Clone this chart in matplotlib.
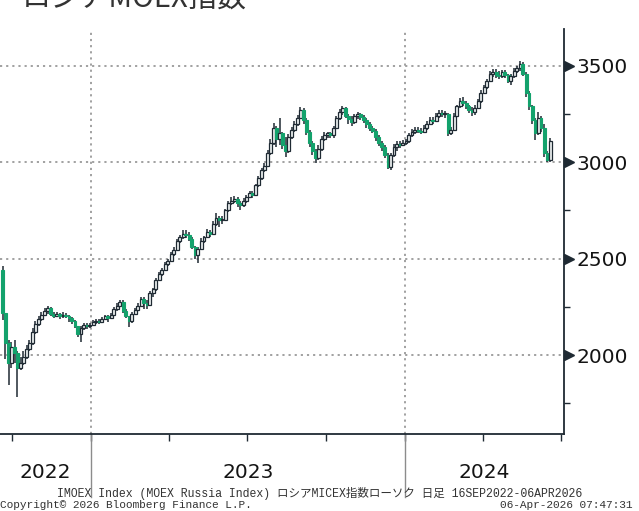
import pandas as pd
import matplotlib
matplotlib.use('Agg')
import matplotlib.pyplot as plt
import matplotlib.dates as mdates
import matplotlib.transforms as mtransforms
from matplotlib.patches import Rectangle

plt.rcParams['font.family'] = ['DejaVu Sans', 'Noto Sans CJK JP']

title = 'ロシアMOEX指数'
footer_1 = 'IMOEX Index (MOEX Russia Index) ロシアMICEX指数ローソク 日足 16SEP2022-06APR2026'
footer_2 = 'Copyright© 2026 Bloomberg Finance L.P.'
footer_3 = '06-Apr-2026 07:47:31'

# half-week candles (Mon-Wed, Thu-Fri)
first_open = 2440
closes = [2220, 2060, 1960, 2040, 2010, 1930, 1960, 1990, 2030, 2060,
          2120, 2160, 2185, 2210, 2230, 2245, 2215, 2205, 2215, 2200,
          2210, 2205, 2190, 2175, 2150, 2110, 2140, 2155, 2150, 2155,
          2170, 2175, 2170, 2185, 2200, 2190, 2210, 2240, 2255, 2275,
          2230, 2200, 2175, 2215, 2235, 2255, 2290, 2270, 2260, 2320,
          2340, 2390, 2420, 2440, 2470, 2490, 2525, 2545, 2590, 2610,
          2630, 2625, 2600, 2560, 2520, 2550, 2590, 2610, 2640, 2630,
          2680, 2710, 2700, 2700, 2750, 2790, 2800, 2810, 2790, 2780,
          2800, 2820, 2840, 2830, 2880, 2920, 2960, 2980, 3050, 3100,
          3180, 3120, 3150, 3090, 3060, 3130, 3170, 3200, 3230, 3270,
          3220, 3160, 3100, 3060, 3020, 3070, 3120, 3140, 3150, 3140,
          3180, 3230, 3260, 3280, 3240, 3225, 3210, 3240, 3250, 3235,
          3220, 3200, 3180, 3165, 3130, 3100, 3080, 3040, 2975, 3040,
          3080, 3095, 3090, 3100, 3110, 3140, 3160, 3170, 3165, 3155,
          3180, 3200, 3220, 3215, 3240, 3255, 3250, 3250, 3150, 3170,
          3240, 3290, 3320, 3310, 3290, 3270, 3260, 3280, 3320, 3360,
          3390, 3420, 3460, 3470, 3455, 3450, 3470, 3455, 3420, 3450,
          3475, 3490, 3510, 3460, 3360, 3290, 3220, 3150, 3230, 3180,
          3050, 3010, 3110]
highs = [2460, 2210, 2080, 2070, 2080, 2020, 1990, 2020, 2050, 2080,
         2140, 2175, 2200, 2225, 2245, 2255, 2250, 2225, 2225, 2220,
         2225, 2220, 2210, 2195, 2180, 2150, 2150, 2165, 2165, 2165,
         2180, 2185, 2185, 2195, 2210, 2210, 2220, 2250, 2270, 2285,
         2285, 2240, 2205, 2225, 2245, 2270, 2300, 2300, 2285, 2330,
         2350, 2400, 2430, 2450, 2485, 2500, 2535, 2560, 2600, 2625,
         2650, 2650, 2640, 2610, 2565, 2560, 2605, 2620, 2655, 2650,
         2695, 2735, 2720, 2720, 2760, 2800, 2820, 2825, 2820, 2800,
         2815, 2830, 2850, 2850, 2890, 2930, 2970, 2995, 3065, 3120,
         3205, 3190, 3230, 3160, 3130, 3145, 3185, 3215, 3245, 3285,
         3280, 3230, 3170, 3110, 3070, 3090, 3135, 3155, 3160, 3160,
         3190, 3240, 3275, 3290, 3285, 3250, 3240, 3250, 3260, 3255,
         3245, 3230, 3210, 3190, 3175, 3140, 3110, 3090, 3050, 3050,
         3095, 3110, 3110, 3115, 3120, 3150, 3175, 3185, 3185, 3180,
         3195, 3215, 3235, 3235, 3255, 3270, 3270, 3265, 3255, 3185,
         3255, 3300, 3335, 3340, 3320, 3300, 3285, 3295, 3330, 3375,
         3400, 3430, 3475, 3485, 3485, 3475, 3480, 3480, 3460, 3460,
         3490, 3500, 3525, 3520, 3470, 3370, 3300, 3230, 3260, 3240,
         3200, 3060, 3125]
lows = [2180, 1980, 1844, 1930, 1960, 1782, 1920, 1950, 1980, 2020,
        2050, 2110, 2150, 2175, 2200, 2215, 2205, 2190, 2195, 2185,
        2190, 2190, 2170, 2160, 2140, 2095, 2070, 2130, 2135, 2140,
        2150, 2160, 2160, 2165, 2180, 2170, 2185, 2205, 2230, 2250,
        2220, 2190, 2145, 2165, 2210, 2230, 2250, 2240, 2240, 2255,
        2300, 2330, 2385, 2410, 2435, 2460, 2485, 2515, 2540, 2580,
        2600, 2605, 2590, 2550, 2500, 2478, 2545, 2580, 2610, 2615,
        2625, 2670, 2665, 2680, 2695, 2740, 2780, 2790, 2770, 2755,
        2770, 2790, 2815, 2815, 2825, 2870, 2910, 2950, 2975, 3040,
        3090, 3080, 3090, 3070, 3030, 3050, 3120, 3160, 3190, 3225,
        3200, 3140, 3080, 3040, 2995, 3010, 3060, 3110, 3125, 3125,
        3125, 3175, 3220, 3245, 3230, 3200, 3190, 3200, 3225, 3220,
        3205, 3180, 3165, 3150, 3110, 3085, 3060, 3020, 2965, 2960,
        3030, 3060, 3075, 3085, 3090, 3100, 3130, 3145, 3150, 3145,
        3150, 3170, 3195, 3200, 3210, 3230, 3235, 3230, 3135, 3140,
        3165, 3235, 3280, 3290, 3275, 3255, 3240, 3245, 3275, 3310,
        3355, 3380, 3415, 3445, 3440, 3435, 3440, 3440, 3410, 3400,
        3440, 3465, 3475, 3450, 3340, 3270, 3200, 3115, 3140, 3160,
        3030, 3000, 3000]

dates = pd.date_range('2022-09-19', '2024-06-17', freq='W-MON').union(
    pd.date_range('2022-09-19', '2024-06-17', freq='W-THU'))
opens = [first_open] + closes[:-1]

y_major = [2000, 2500, 3000, 3500]
y_minor = [1750, 2250, 2750, 3250]
quarters = ['2022-10-01', '2023-01-01', '2023-04-01', '2023-07-01',
            '2023-10-01', '2024-01-01', '2024-04-01', '2024-07-01']
years = ['2022', '2023', '2024']
year_starts = ['2023-01-01', '2024-01-01']

green = '#13a26c'
dark = '#1f2a33'
grid_c = '#9a9a9a'

fig = plt.figure(figsize=(6.39, 5.11), dpi=100)
ax = fig.add_axes([0.0, 1 - 434 / 511, 564 / 639, 405 / 511])

xnum = mdates.date2num(dates) + 1.25
w = 3.4
for x, o, h, l, c in zip(xnum, opens, highs, lows, closes):
    ax.vlines(x, l, h, color=dark, lw=1.1, zorder=3)
    bottom = min(o, c)
    height = max(abs(c - o), 5)
    if c >= o:
        ax.add_patch(Rectangle((x - w / 2, bottom), w, height, facecolor='#eef3f2',
                               edgecolor=dark, lw=0.9, zorder=4))
    else:
        ax.add_patch(Rectangle((x - w / 2, bottom), w, height, facecolor=green,
                               edgecolor=green, lw=0.8, zorder=4))

xmin = mdates.date2num(pd.Timestamp('2022-09-17'))
xmax = mdates.date2num(pd.Timestamp('2024-07-04'))
ax.set_xlim(xmin, xmax)
ax.set_ylim(1590, 3692)

# grid
for v in y_major:
    ax.axhline(v, color=grid_c, lw=1.3, ls=(0, (1.2, 2.2)), zorder=1)
for d in year_starts:
    ax.axvline(mdates.date2num(pd.Timestamp(d)), color=grid_c, lw=1.3,
               ls=(0, (1.2, 2.2)), zorder=1)

# spines
for s in ['left', 'top']:
    ax.spines[s].set_visible(False)
for s in ['right', 'bottom']:
    ax.spines[s].set_color(dark)
    ax.spines[s].set_linewidth(1.3)

# y axis on the right
ax.yaxis.tick_right()
ax.set_yticks(y_major)
ax.set_yticks(y_minor, minor=True)
ax.tick_params(axis='y', which='major', length=0, pad=9, labelsize=14.5,
               labelcolor='#141414')
ax.tick_params(axis='y', which='minor', length=4, width=1, color=dark,
               direction='out')
tri = mtransforms.offset_copy(ax.get_yaxis_transform(), fig=fig, x=5, y=0,
                              units='dots')
ax.plot([1.0] * len(y_major), y_major, marker='>', ms=6.5, color=dark, ls='none',
        transform=tri, clip_on=False)

# x axis
ax.set_xticks([mdates.date2num(pd.Timestamp(q)) for q in quarters])
ax.tick_params(axis='x', length=5, width=1, color=dark, direction='out',
               labelbottom=False)
bt = mtransforms.blended_transform_factory(ax.transData, ax.transAxes)
for d in year_starts:
    xd = mdates.date2num(pd.Timestamp(d))
    ax.plot([xd, xd], [0, -63 / 405], color='#8c8c8c', lw=1, transform=bt,
            clip_on=False)
edges = [xmin] + [mdates.date2num(pd.Timestamp(d)) for d in year_starts] + [xmax]
for i, yr in enumerate(years):
    ax.text((edges[i] + edges[i + 1]) / 2, -38 / 405, yr, transform=bt,
            ha='center', va='center', fontsize=14.5, color='#141414')

# title (cut at the top edge, as in the source) and footer
fig.text(22 / 639, 1 - 14 / 511, title, ha='left', va='bottom', fontsize=21,
         color='#333333', family=['Noto Sans CJK JP', 'DejaVu Sans'])
mono = ['Liberation Mono', 'Noto Sans CJK JP']
fig.text(0.5, 1 - 493 / 511, footer_1, ha='center', va='center', fontsize=8.3,
         color='#333333', family=mono)
fig.text(0.0, 1 - 505 / 511, footer_2, ha='left', va='center', fontsize=8,
         color='#333333', family=mono)
fig.text(632 / 639, 1 - 505 / 511, footer_3, ha='right', va='center', fontsize=8,
         color='#333333', family=mono)

fig.savefig('out.png', dpi=100)
